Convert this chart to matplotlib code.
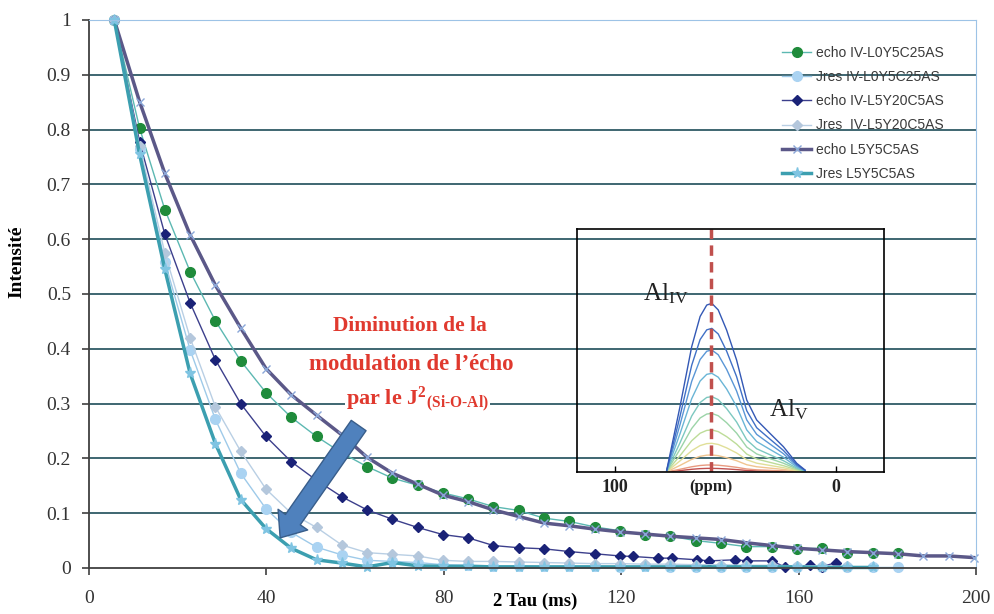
import numpy as np
import matplotlib.pyplot as plt
from matplotlib.patches import FancyArrowPatch
from matplotlib.transforms import blended_transform_factory

plt.rcParams['mathtext.fontset'] = 'custom'
plt.rcParams['mathtext.rm'] = 'Liberation Serif'
plt.rcParams['mathtext.it'] = 'Liberation Serif:italic'
plt.rcParams['mathtext.bf'] = 'Liberation Serif:bold'

# 2 Tau (ms) grid used by most series
tau = [5.7, 11.4, 17.1, 22.8, 28.5, 34.2, 39.9, 45.6, 51.3, 57.0,
       62.7, 68.4, 74.1, 79.8, 85.5, 91.2, 96.9, 102.6, 108.3, 114.0,
       119.7, 125.4, 131.1, 136.8, 142.5, 148.2, 153.9, 159.6, 165.3, 171.0,
       176.7, 182.4, 188.1, 193.8, 199.5]

echo_l0 = [1.0, 0.803, 0.654, 0.541, 0.451, 0.378, 0.32, 0.275, 0.24, 0.21,
           0.185, 0.164, 0.151, 0.137, 0.126, 0.112, 0.105, 0.091, 0.085, 0.075,
           0.068, 0.060, 0.058, 0.050, 0.045, 0.039, 0.039, 0.035, 0.036, 0.028,
           0.028, 0.027]
jres_l0 = [1.0, 0.765, 0.559, 0.398, 0.271, 0.173, 0.108, 0.065, 0.038, 0.024,
           0.014, 0.012, 0.010, 0.006, 0.005, 0.004, 0.004, 0.003, 0.003, 0.003,
           0.002, 0.003, 0.002, 0.002, 0.002, 0.002, 0.001, 0.002, 0.001, 0.001,
           0.001, 0.001]

tau_l5y20 = [5.7, 11.4, 17.1, 22.8, 28.5, 34.2, 39.9, 45.6, 51.3, 57.0,
             62.7, 68.4, 74.1, 79.8, 85.5, 91.2, 96.9, 102.6, 108.3, 114.0,
             119.7, 122.7, 128.4, 131.4, 137.0, 139.9, 145.7, 148.4, 153.9, 156.9,
             162.6, 165.2, 168.4]
echo_l5y20 = [1.0, 0.778, 0.609, 0.484, 0.380, 0.300, 0.240, 0.194, 0.16, 0.130,
              0.106, 0.089, 0.074, 0.061, 0.055, 0.041, 0.037, 0.035, 0.030, 0.026,
              0.022, 0.021, 0.018, 0.018, 0.015, 0.013, 0.015, 0.013, 0.013, 0.002,
              0.005, 0.002, 0.010]
jres_l5y20 = [1.0, 0.77, 0.575, 0.420, 0.294, 0.213, 0.144, 0.10, 0.074, 0.042,
              0.028, 0.025, 0.022, 0.014, 0.012, 0.012, 0.011, 0.010, 0.009, 0.008,
              0.008, 0.007, 0.007, 0.006, 0.006, 0.005, 0.005, 0.004, 0.004, 0.003]

echo_l5 = [1.0, 0.851, 0.720, 0.608, 0.516, 0.438, 0.364, 0.316, 0.279, 0.243,
           0.202, 0.173, 0.153, 0.133, 0.121, 0.106, 0.094, 0.082, 0.077, 0.071,
           0.066, 0.062, 0.058, 0.055, 0.052, 0.046, 0.041, 0.036, 0.033, 0.030,
           0.028, 0.026, 0.022, 0.022, 0.019]
jres_l5 = [1.0, 0.755, 0.545, 0.355, 0.227, 0.125, 0.072, 0.036, 0.015, 0.009,
           0.002, 0.010, 0.004, 0.003, 0.003, 0.002, 0.002, 0.002, 0.002, 0.002,
           0.002, 0.002, 0.002, 0.002, 0.002, 0.002, 0.002, 0.002, 0.001, 0.001,
           0.001]

# inset 27Al spectrum (outer trace) and peak heights of the stacked traces
spec_ppm = [76.6, 70.6, 65.3, 61.5, 58.5, 56.2, 53.3, 49.5, 45.0, 40.4,
            35.9, 29.9, 23.8, 17.8, 14.0]
spec_int = [0.008, 0.269, 0.516, 0.64, 0.687, 0.694, 0.667, 0.584, 0.461, 0.296,
            0.214, 0.159, 0.104, 0.036, 0.008]
peak_heights = [0.694, 0.591, 0.502, 0.406, 0.310, 0.241, 0.173, 0.118, 0.070, 0.029, 0.015]
spec_colors = ['#3358b5', '#4070c6', '#5a96d6', '#6ab5d6', '#7cc8c0', '#9cd4a8',
               '#bddc98', '#e0df98', '#f0c590', '#e89a80', '#c05050']

W, H = 994, 614
fig = plt.figure(figsize=(W / 100, H / 100), dpi=100)
ax = fig.add_axes([89 / W, 46 / H, 887 / W, 548 / H])

grid_c = '#2f5a66'
for g in [0.1, 0.2, 0.3, 0.4, 0.5, 0.6, 0.7, 0.8, 0.9]:
    ax.axhline(g, color=grid_c, lw=1.3, zorder=0.5)

ax.plot(tau[:len(echo_l0)], echo_l0, color='#5cb8b2', lw=1, marker='o', ms=7,
        mfc='#1f8b3b', mec='#1f8b3b', label='echo IV-L0Y5C25AS', clip_on=False)
ax.plot(tau[:len(jres_l0)], jres_l0, color='#9ecae9', lw=1, marker='o', ms=7,
        mfc='#aad3f2', mec='#aad3f2', label='Jres IV-L0Y5C25AS', clip_on=False)
ax.plot(tau_l5y20, echo_l5y20, color='#3c3f8c', lw=1, marker='D', ms=5,
        mfc='#1a2277', mec='#1a2277', label='echo IV-L5Y20C5AS', clip_on=False)
ax.plot(tau[:len(jres_l5y20)], jres_l5y20, color='#b9cfe4', lw=1, marker='D', ms=5,
        mfc='#b4c7dc', mec='#b4c7dc', label='Jres  IV-L5Y20C5AS', clip_on=False)
ax.plot(tau, echo_l5, color='#5b5888', lw=2.5, marker='x', ms=6, mew=1,
        mec='#8aa7d8', label='echo L5Y5C5AS', clip_on=False)
ax.plot(tau[:len(jres_l5)], jres_l5, color='#3c9fb0', lw=2.5, marker='*', ms=8,
        mfc='#7fc4e2', mec='#7fc4e2', label='Jres L5Y5C5AS', clip_on=False)

ax.set_xlim(0, 200)
ax.set_ylim(0, 1)
ax.set_xticks([0, 40, 80, 120, 160, 200])
ax.set_yticks([0, 0.1, 0.2, 0.3, 0.4, 0.5, 0.6, 0.7, 0.8, 0.9, 1])
ax.set_yticklabels(['0', '0.1', '0.2', '0.3', '0.4', '0.5', '0.6', '0.7', '0.8', '0.9', '1'])
for lab in ax.get_xticklabels() + ax.get_yticklabels():
    lab.set_family('Liberation Serif')
    lab.set_fontsize(14)
    lab.set_color('#333333')
ax.tick_params(axis='x', direction='out', length=5, width=1.2, color='#404040', pad=11)
ax.tick_params(axis='y', direction='out', length=5, width=1.2, color='#404040', pad=8)
ax.spines['left'].set_color('#404040')
ax.spines['bottom'].set_color('#404040')
ax.spines['left'].set_linewidth(1.3)
ax.spines['bottom'].set_linewidth(1.3)
ax.spines['top'].set_color('#9dc3e6')
ax.spines['right'].set_color('#9dc3e6')

fig.text(17 / W, 1 - 262 / H, 'Intensité', rotation=90, ha='center', va='center',
         fontsize=14, fontweight='bold', family='Liberation Serif')
fig.text(535 / W, 1 - 601 / H, '2 Tau (ms)', ha='center', va='center',
         fontsize=13.5, fontweight='bold', family='Liberation Serif')

ax.legend(loc='upper left', bbox_to_anchor=(782 / W, 1 - 46 / H), bbox_transform=fig.transFigure,
          frameon=False, borderpad=0, borderaxespad=0, handlelength=2.1, handletextpad=0.35,
          labelspacing=0.73, prop={'family': 'Liberation Sans', 'size': 10}, labelcolor='#3a3a3a')

# annotation
red = '#e0392e'
box = dict(fc='white', ec='none', pad=1)
fig.text(410 / W, 1 - 326 / H, 'Diminution de la', ha='center', va='center', fontsize=15.5,
         fontweight='bold', family='Liberation Serif', color=red, bbox=box, zorder=5)
fig.text(411 / W, 1 - 364 / H, 'modulation de l’écho', ha='center', va='center', fontsize=16.5,
         fontweight='bold', family='Liberation Serif', color=red, bbox=box, zorder=5)
fig.text(346 / W, 1 - 404 / H, r'par le J${}^{\mathbf{2}}{}_{\mathbf{(Si‐O‐Al)}}$', ha='left',
         va='baseline', fontsize=16, fontweight='bold', family='Liberation Serif', color=red,
         bbox=box, zorder=5)

arrow = FancyArrowPatch((60.8, 0.26), (43.1, 0.055),
                        arrowstyle='simple,head_length=16,head_width=26,tail_width=13',
                        mutation_scale=1, shrinkA=0, shrinkB=0,
                        fc='#4f81bd', ec='#385d8a', lw=1, zorder=6)
ax.add_patch(arrow)

# inset spectrum
axin = fig.add_axes([577 / W, 1 - 472 / H, 307 / W, 243 / H], facecolor='none')
prof = np.array(spec_int) / max(spec_int)
for hgt, c in zip(peak_heights[::-1], spec_colors[::-1]):
    axin.plot(spec_ppm, prof * hgt, color=c, lw=1.0)
axin.axvline(56.6, color='#c0504d', lw=2.5, ls=(0, (3, 1.8)))
axin.set_xlim(117.2, -21.7)
axin.set_ylim(0, 1)
axin.set_yticks([])
axin.set_xticks([100, 0])
axin.set_xticklabels(['', ''])
axin.tick_params(axis='x', direction='in', length=4, width=1, color='black')
for s in axin.spines.values():
    s.set_color('black')
    s.set_linewidth(1.2)
tr = blended_transform_factory(axin.transData, axin.transAxes)
for v, s, fs in zip([100, 56.6, 0], ['100', '(ppm)', '0'], [13, 12, 13]):
    axin.text(v, -0.062, s, transform=tr, ha='center', va='center', fontsize=fs,
              fontweight='bold', family='Liberation Serif', color='#222222')
axin.text(87.5, 0.708, r'Al$_{\mathrm{IV}}$', ha='left', va='baseline', fontsize=18,
          family='Liberation Serif', color='#222222')
axin.text(30.2, 0.228, r'Al$_{\mathrm{V}}$', ha='left', va='baseline', fontsize=18,
          family='Liberation Serif', color='#222222')

fig.savefig('out.png', dpi=100)
